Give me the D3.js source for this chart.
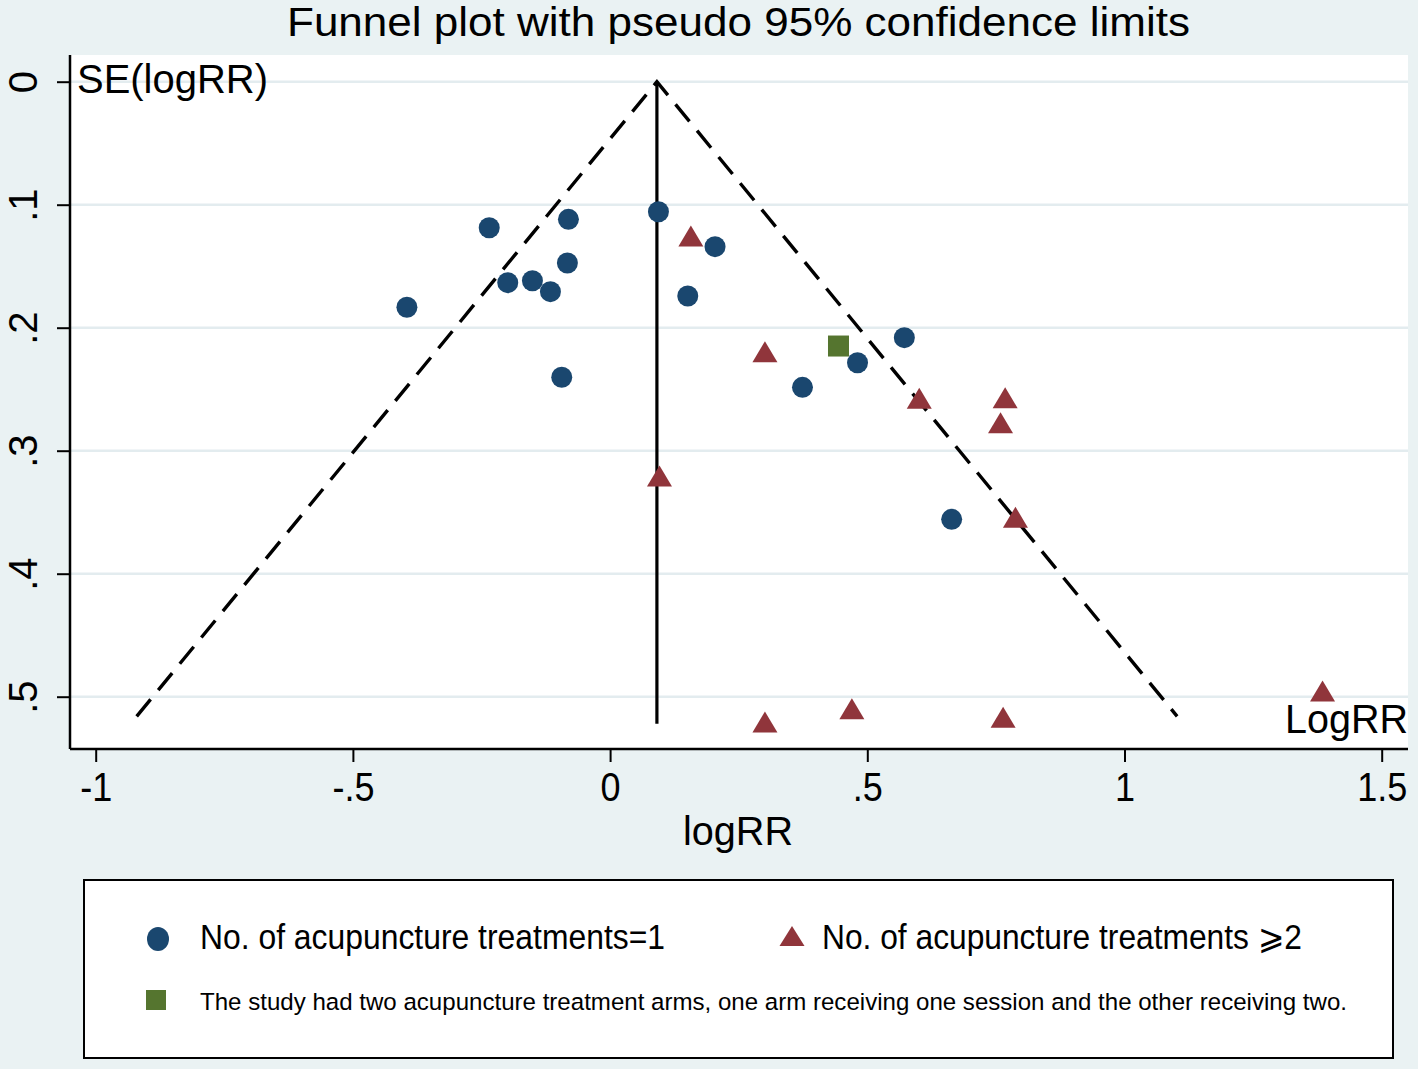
<!DOCTYPE html>
<html><head><meta charset="utf-8">
<script src="https://cdn.jsdelivr.net/npm/d3@7"></script>
<style>
body{margin:0;background:#eaf2f3;}
svg{display:block;font-family:"Liberation Sans",Arial,"DejaVu Sans",sans-serif;}
</style>
</head><body>
<svg id="chart" width="1418" height="1069"></svg>
<script>
// ---------- data ----------
const xTicks = [-1, -0.5, 0, 0.5, 1, 1.5];
const xTickLabels = ["-1", "-.5", "0", ".5", "1", "1.5"];
const yTicks = [0, 0.1, 0.2, 0.3, 0.4, 0.5];
const yTickLabels = ["0", ".1", ".2", ".3", ".4", ".5"];

// No. of acupuncture treatments = 1
const oneLogRR = [-0.235, -0.081, 0.094, 0.204, -0.199, -0.151, -0.083, -0.116, -0.395, 0.151, -0.094, 0.572, 0.481, 0.374, 0.664];
const oneSE    = [0.1187, 0.1119, 0.1057, 0.1341, 0.1634, 0.1618, 0.1474, 0.1707, 0.1834, 0.1742, 0.2403, 0.2081, 0.2285, 0.2485, 0.3558];

// No. of acupuncture treatments >= 2
const twoLogRR = [0.157, 0.301, 0.601, 0.768, 0.759, 0.096, 0.788, 0.301, 0.470, 0.764, 1.385];
const twoSE    = [0.1254, 0.2195, 0.2574, 0.2569, 0.2772, 0.3206, 0.3541, 0.5206, 0.5098, 0.5168, 0.4954];

// study with two arms
const armsLogRR = [0.444];
const armsSE    = [0.2149];

const pooledLogRR = 0.091;
const funnelMaxSE = 0.516;
const lineMaxSE = 0.522;

const titleText = "Funnel plot with pseudo 95% confidence limits";
const legendLabels = ["No. of acupuncture treatments=1", "No. of acupuncture treatments \u2A7E2",
  "The study had two acupuncture treatment arms, one arm receiving one session and the other receiving two."];

// ---------- layout ----------
const C = {blue:"#1a476f", red:"#90353b", green:"#55752f", bg:"#eaf2f3", grid:"#e3ecef"};
const plot = {l:70, r:1408, t:55, b:749};
const svg = d3.select("#chart");

const x = d3.scaleLinear().domain([-1, 1.5]).range([95.7, 1381.7]);
const y = d3.scaleLinear().domain([0, 0.5]).range([81.7, 696.7]);

svg.append("rect").attr("width",1418).attr("height",1069).attr("fill",C.bg);
svg.append("rect").attr("x",plot.l).attr("y",plot.t).attr("width",plot.r-plot.l).attr("height",plot.b-plot.t).attr("fill","#fff");

function squeeze(sel, f){
  sel.each(function(){ const w=this.getComputedTextLength(); d3.select(this).attr("textLength", w*f).attr("lengthAdjust","spacingAndGlyphs"); });
}
function fitW(sel, w){ sel.attr("textLength", w).attr("lengthAdjust","spacingAndGlyphs"); }

// grid
svg.append("g").selectAll("line").data(yTicks).join("line")
  .attr("x1",plot.l+1).attr("x2",plot.r).attr("y1",d=>y(d)).attr("y2",d=>y(d))
  .attr("stroke",C.grid).attr("stroke-width",2.5);

// funnel
const funnel = [[pooledLogRR-1.96*funnelMaxSE, funnelMaxSE],[pooledLogRR,0],[pooledLogRR+1.96*funnelMaxSE, funnelMaxSE]];
svg.append("path").attr("d", d3.line().x(d=>x(d[0])).y(d=>y(d[1]))(funnel))
  .attr("fill","none").attr("stroke","#000").attr("stroke-width",3.4).attr("stroke-dasharray","22,12");
svg.append("line").attr("x1",x(pooledLogRR)).attr("x2",x(pooledLogRR)).attr("y1",y(0)).attr("y2",y(lineMaxSE))
  .attr("stroke","#000").attr("stroke-width",3.2);

// axes
const xAxis = d3.axisBottom(x).tickValues(xTicks).tickFormat((d,i)=>xTickLabels[i]).tickSize(13).tickPadding(10);
const gx = svg.append("g").attr("transform",`translate(0,${plot.b})`).call(xAxis);
gx.select(".domain").attr("d",`M${plot.l},0H${plot.r}`).attr("stroke","#000").attr("stroke-width",2.5);
gx.selectAll(".tick line").attr("stroke","#000").attr("stroke-width",2);
gx.selectAll(".tick text").attr("font-size",40).attr("fill","#000").attr("font-family","Liberation Sans, Arial, sans-serif").attr("dy","0.73em");
squeeze(gx.selectAll(".tick text"), 0.9);

const yAxis = d3.axisLeft(y).tickValues(yTicks).tickFormat((d,i)=>yTickLabels[i]).tickSize(13).tickPadding(0);
const gy = svg.append("g").attr("transform",`translate(${plot.l},0)`).call(yAxis);
gy.select(".domain").attr("d",`M0,${plot.t}V${plot.b}`).attr("stroke","#000").attr("stroke-width",2.5);
gy.selectAll(".tick line").attr("stroke","#000").attr("stroke-width",2);
gy.selectAll(".tick text").attr("font-size",40).attr("fill","#000").attr("font-family","Liberation Sans, Arial, sans-serif")
  .attr("x",null).attr("dy",null).attr("text-anchor","middle")
  .attr("transform","translate(-33,0) rotate(-90)");

// markers
const tri = (w,h)=>`M0,${-h/2}L${w/2},${h/2}L${-w/2},${h/2}Z`;
svg.append("g").selectAll("circle").data(oneLogRR).join("circle")
  .attr("cx",d=>x(d)).attr("cy",(d,i)=>y(oneSE[i])).attr("r",10.5).attr("fill",C.blue);
svg.append("g").selectAll("path").data(twoLogRR).join("path")
  .attr("d",tri(25,21)).attr("transform",(d,i)=>`translate(${x(d)},${y(twoSE[i])})`).attr("fill",C.red);
svg.append("g").selectAll("rect").data(armsLogRR).join("rect")
  .attr("x",d=>x(d)-10.5).attr("y",(d,i)=>y(armsSE[i])-10.5).attr("width",21).attr("height",21).attr("fill",C.green);

// texts
fitW(svg.append("text").attr("x",287).attr("y",36).attr("font-size",41).text(titleText), 903);
fitW(svg.append("text").attr("x",683).attr("y",845).attr("font-size",41).text("logRR"), 110);
fitW(svg.append("text").attr("x",77).attr("y",93).attr("font-size",41).text("SE(logRR)"), 191);
fitW(svg.append("text").attr("x",1285).attr("y",733).attr("font-size",41).text("LogRR"), 123);

// legend
const lg = svg.append("g");
lg.append("rect").attr("x",84).attr("y",880).attr("width",1309).attr("height",178).attr("fill","#fff").attr("stroke","#000").attr("stroke-width",2);
lg.append("ellipse").attr("cx",158).attr("cy",939).attr("rx",11).attr("ry",12).attr("fill",C.blue);
lg.append("path").attr("d",tri(25,20)).attr("transform","translate(792,936)").attr("fill",C.red);
lg.append("rect").attr("x",146).attr("y",990).attr("width",20).attr("height",20).attr("fill",C.green);
fitW(lg.append("text").attr("x",200).attr("y",949).attr("font-size",35).text(legendLabels[0]), 465);
fitW(lg.append("text").attr("x",822).attr("y",949).attr("font-size",35).text(legendLabels[1]), 480);
fitW(lg.append("text").attr("x",200).attr("y",1010).attr("font-size",24.5).text(legendLabels[2]), 1147);
</script>
</body></html>
